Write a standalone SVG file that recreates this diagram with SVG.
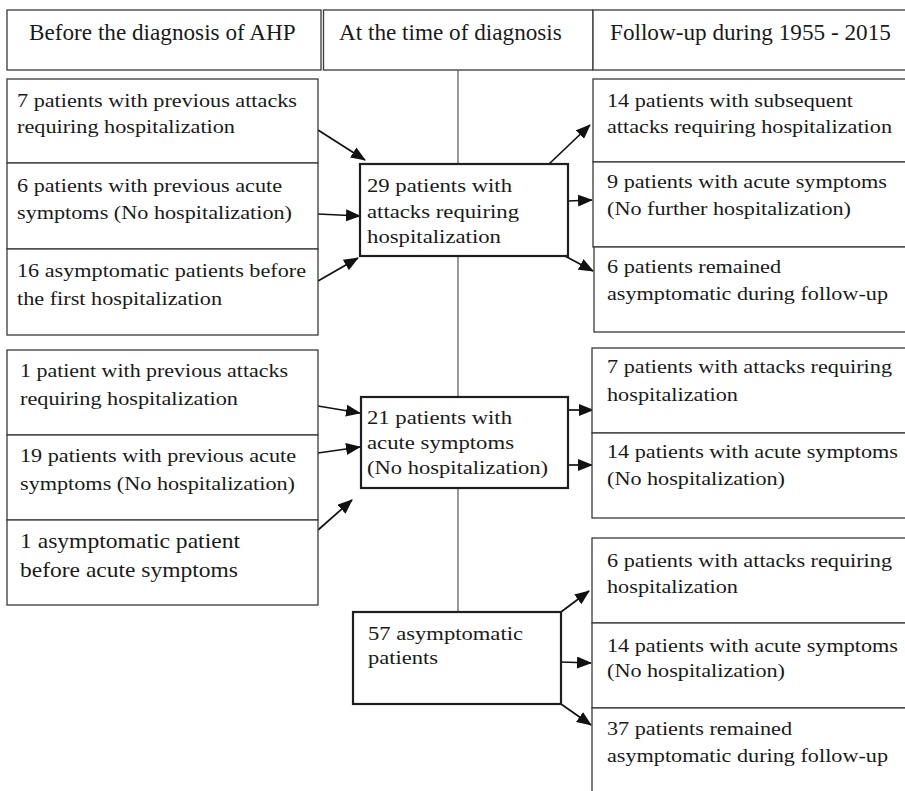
<svg xmlns="http://www.w3.org/2000/svg" width="905" height="791" viewBox="0 0 905 791">
<style>
.bg{fill:#fff}
.box{fill:#fff;stroke:#3a3a3a;stroke-width:1.3}
.cbox{fill:#fff;stroke:#1e1e1e;stroke-width:2.2}
.vl{stroke:#555;stroke-width:1.2;fill:none}
.t{font-family:"Liberation Serif","Times New Roman",serif;font-size:19.5px;fill:#1a1a1a}
.tb{font-family:"Liberation Serif","Times New Roman",serif;font-size:21px;fill:#1a1a1a}
.h{font-family:"Liberation Serif","Times New Roman",serif;font-size:23.2px;fill:#1a1a1a}
.arr{stroke:#111;stroke-width:1.7;fill:none;marker-end:url(#ah)}
</style>
<defs>
<marker id="ah" markerUnits="userSpaceOnUse" markerWidth="15" markerHeight="12" viewBox="0 0 15 12" refX="14" refY="6" orient="auto">
<path d="M0,0 L15,6 L0,12 Z" fill="#111"/>
</marker>
</defs>
<rect class="bg" x="0" y="0" width="905" height="791"/>

<g id="header">
<rect class="box" x="7" y="10" width="314" height="60"/>
<rect class="box" x="323.5" y="10" width="269.5" height="60"/>
<rect class="box" x="593" y="10" width="320" height="60"/>
<text class="h" x="29" y="40">Before the diagnosis of AHP</text>
<text class="h" x="339" y="40">At the time of diagnosis</text>
<text class="h" x="610" y="40">Follow-up during 1955 - 2015</text>
</g>

<g id="connectors">
<line class="vl" x1="458" y1="70" x2="458" y2="164"/>
<line class="vl" x1="458" y1="256" x2="458" y2="397"/>
<line class="vl" x1="458" y1="488" x2="458" y2="612"/>
<line class="arr" x1="318" y1="130" x2="365" y2="160"/>
<line class="arr" x1="318" y1="214" x2="360" y2="216"/>
<line class="arr" x1="318" y1="281" x2="358" y2="258"/>
<line class="arr" x1="549" y1="164" x2="590" y2="125"/>
<line class="arr" x1="568" y1="201" x2="592" y2="200"/>
<line class="arr" x1="565" y1="256" x2="593" y2="271"/>
<line class="arr" x1="318" y1="406" x2="360" y2="413"/>
<line class="arr" x1="318" y1="453" x2="360" y2="447"/>
<line class="arr" x1="318" y1="530" x2="352" y2="500"/>
<line class="arr" x1="568" y1="410" x2="593" y2="410"/>
<line class="arr" x1="568" y1="465" x2="592" y2="465"/>
<line class="arr" x1="561" y1="612" x2="589" y2="591"/>
<line class="arr" x1="561" y1="662" x2="591" y2="663"/>
<line class="arr" x1="561" y1="704" x2="591" y2="725"/>
</g>

<g id="before1">
<rect class="box" x="7" y="79" width="311" height="84"/>
<text class="t" x="17" y="107" textLength="280" lengthAdjust="spacingAndGlyphs">7 patients with previous attacks</text>
<text class="t" x="17" y="133" textLength="218" lengthAdjust="spacingAndGlyphs">requiring hospitalization</text>
</g>
<g id="before2">
<rect class="box" x="7" y="163" width="311" height="86"/>
<text class="t" x="17" y="192" textLength="265" lengthAdjust="spacingAndGlyphs">6 patients with previous acute</text>
<text class="t" x="17" y="219" textLength="275" lengthAdjust="spacingAndGlyphs">symptoms (No hospitalization)</text>
</g>
<g id="before3">
<rect class="box" x="7" y="249" width="311" height="86"/>
<text class="t" x="17" y="277" textLength="289" lengthAdjust="spacingAndGlyphs">16 asymptomatic patients before</text>
<text class="t" x="17" y="305" textLength="205" lengthAdjust="spacingAndGlyphs">the first hospitalization</text>
</g>
<g id="before4">
<rect class="box" x="7" y="350" width="311" height="85"/>
<text class="t" x="20" y="377" textLength="268" lengthAdjust="spacingAndGlyphs">1 patient with previous attacks</text>
<text class="t" x="20" y="405" textLength="218" lengthAdjust="spacingAndGlyphs">requiring hospitalization</text>
</g>
<g id="before5">
<rect class="box" x="7" y="435" width="311" height="85"/>
<text class="t" x="20" y="462" textLength="276" lengthAdjust="spacingAndGlyphs">19 patients with previous acute</text>
<text class="t" x="20" y="490" textLength="275" lengthAdjust="spacingAndGlyphs">symptoms (No hospitalization)</text>
</g>
<g id="before6">
<rect class="box" x="7" y="520" width="311" height="85"/>
<text class="tb" x="20" y="548" textLength="220" lengthAdjust="spacingAndGlyphs">1 asymptomatic patient</text>
<text class="tb" x="20" y="577" textLength="218" lengthAdjust="spacingAndGlyphs">before acute symptoms</text>
</g>

<g id="diag1">
<rect class="cbox" x="360" y="164" width="208" height="92"/>
<text class="t" x="367" y="192" textLength="145" lengthAdjust="spacingAndGlyphs">29 patients with</text>
<text class="t" x="367" y="218" textLength="152" lengthAdjust="spacingAndGlyphs">attacks requiring</text>
<text class="t" x="367" y="243" textLength="134" lengthAdjust="spacingAndGlyphs">hospitalization</text>
</g>
<g id="diag2">
<rect class="cbox" x="361" y="397" width="207" height="91"/>
<text class="t" x="367" y="424" textLength="145" lengthAdjust="spacingAndGlyphs">21 patients with</text>
<text class="t" x="367" y="449" textLength="147" lengthAdjust="spacingAndGlyphs">acute symptoms</text>
<text class="t" x="367" y="474" textLength="181" lengthAdjust="spacingAndGlyphs">(No hospitalization)</text>
</g>
<g id="diag3">
<rect class="cbox" x="353" y="612" width="208" height="92"/>
<text class="t" x="368" y="640" textLength="155" lengthAdjust="spacingAndGlyphs">57 asymptomatic</text>
<text class="t" x="368" y="664" textLength="70" lengthAdjust="spacingAndGlyphs">patients</text>
</g>

<g id="follow1">
<rect class="box" x="593" y="79" width="320" height="83"/>
<text class="t" x="607" y="107" textLength="246" lengthAdjust="spacingAndGlyphs">14 patients with subsequent</text>
<text class="t" x="607" y="133" textLength="285" lengthAdjust="spacingAndGlyphs">attacks requiring hospitalization</text>
</g>
<g id="follow2">
<rect class="box" x="593" y="162" width="320" height="85"/>
<text class="t" x="607" y="188" textLength="280" lengthAdjust="spacingAndGlyphs">9 patients with acute symptoms</text>
<text class="t" x="607" y="215" textLength="244" lengthAdjust="spacingAndGlyphs">(No further hospitalization)</text>
</g>
<g id="follow3">
<rect class="box" x="594" y="247" width="320" height="85"/>
<text class="t" x="607" y="273" textLength="174" lengthAdjust="spacingAndGlyphs">6 patients remained</text>
<text class="t" x="607" y="300" textLength="281" lengthAdjust="spacingAndGlyphs">asymptomatic during follow-up</text>
</g>
<g id="follow4">
<rect class="box" x="592" y="348" width="320" height="85"/>
<text class="t" x="607" y="373" textLength="285" lengthAdjust="spacingAndGlyphs">7 patients with attacks requiring</text>
<text class="t" x="607" y="401" textLength="131" lengthAdjust="spacingAndGlyphs">hospitalization</text>
</g>
<g id="follow5">
<rect class="box" x="592" y="433" width="320" height="85"/>
<text class="t" x="607" y="458" textLength="291" lengthAdjust="spacingAndGlyphs">14 patients with acute symptoms</text>
<text class="t" x="607" y="485" textLength="178" lengthAdjust="spacingAndGlyphs">(No hospitalization)</text>
</g>
<g id="follow6">
<rect class="box" x="592" y="538" width="320" height="85"/>
<text class="t" x="607" y="567" textLength="285" lengthAdjust="spacingAndGlyphs">6 patients with attacks requiring</text>
<text class="t" x="607" y="593" textLength="131" lengthAdjust="spacingAndGlyphs">hospitalization</text>
</g>
<g id="follow7">
<rect class="box" x="592" y="623" width="320" height="85"/>
<text class="t" x="607" y="652" textLength="291" lengthAdjust="spacingAndGlyphs">14 patients with acute symptoms</text>
<text class="t" x="607" y="677" textLength="178" lengthAdjust="spacingAndGlyphs">(No hospitalization)</text>
</g>
<g id="follow8">
<rect class="box" x="592" y="708" width="320" height="100"/>
<text class="t" x="607" y="735" textLength="185" lengthAdjust="spacingAndGlyphs">37 patients remained</text>
<text class="t" x="607" y="762" textLength="281" lengthAdjust="spacingAndGlyphs">asymptomatic during follow-up</text>
</g>
</svg>
